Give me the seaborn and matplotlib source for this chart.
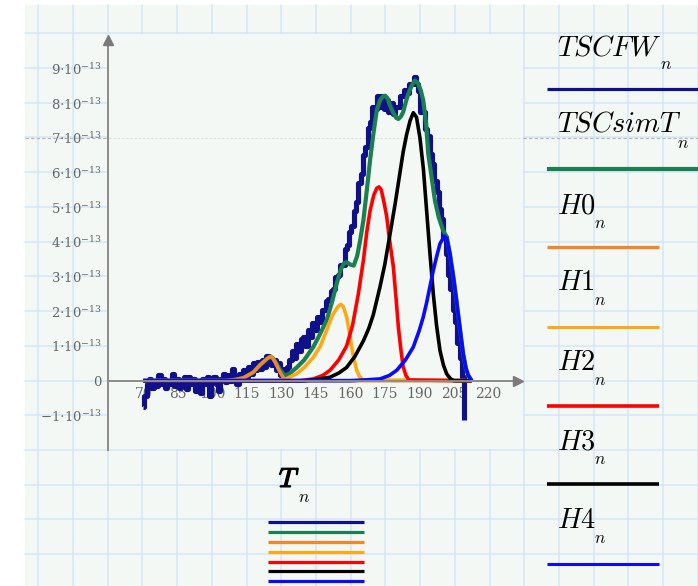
import matplotlib
matplotlib.use("Agg")
import numpy as np
import pandas as pd
import seaborn as sns
import matplotlib.pyplot as plt
from matplotlib.patches import Rectangle
import matplotlib.patheffects as pe

# ---------------- data (values in units of 1e-13) ----------------
SCALE = 1e-13

T_fw = list(range(70, 210)) + [209.5]
TSCFW = [
    -0.75, -0.45, -0.1, 0.05, -0.2, 0.0, -0.15, 0.15, -0.1, 0.05,
    -0.2, 0.0, -0.1, 0.2, -0.15, 0.05, -0.2, -0.05, 0.1, -0.25,
    0.1, -0.1, 0.05, -0.3, 0.0, -0.35, 0.05, -0.1, 0.1, -0.45,
    0.0, 0.1, -0.1, -0.3, 0.05, 0.2, -0.05, 0.15, 0.0, 0.35,
    0.1, -0.1, 0.2, 0.05, 0.3, 0.1, 0.4, 0.2, 0.5, 0.3,
    0.55, 0.35, 0.6, 0.4, 0.7, 0.5, 0.45, 0.6, 0.3, 0.5,
    0.15, 0.35, 0.05, 0.4, 0.6, 0.85, 0.65, 1.05, 0.85, 1.2,
    1.25, 1.0, 1.45, 1.25, 1.65, 1.45, 1.85, 1.7, 2.05, 2.05,
    2.3, 2.35, 2.6, 2.65, 3.0, 3.05, 3.35, 3.35, 3.8, 3.9,
    4.3, 4.45, 4.9, 5.15, 5.7, 5.95, 6.5, 6.75, 7.3, 7.45,
    7.9, 7.85, 8.2, 7.9, 8.2, 7.85, 8.1, 7.75, 8.0, 7.7,
    7.9, 7.9, 8.2, 8.2, 8.4, 8.3, 8.55, 8.55, 8.75, 8.55,
    8.35, 7.75, 7.75, 7.25, 7.05, 6.55, 6.25, 5.75, 5.45, 4.95,
    4.65, 4.15, 3.65, 3.05, 2.65, 2.05, 1.7, 1.1, 0.65, 0.12,
    -1.14,
]

T_sim = [70, 106, 110, 113.5, 117.8, 120.7, 123.6, 124.6, 125.4, 126.3, 127.3, 129.4,
         131.5, 133.5, 136.7, 140, 143.9, 146.5, 149.7, 152, 154.1, 155.8, 157.2, 158.4,
         160, 161.5, 163, 164.3, 165.7, 167.2, 168.6, 170, 171.5, 173, 174.2, 175.1,
         176.2, 177.2, 178.5, 180, 180.9, 182, 183, 184.2, 185.2, 186.6, 188.1, 189.3,
         190.5, 191.7, 193, 193.9, 195.3, 196.8, 198.5, 200.4, 201.9, 203.3, 204.8,
         206.2, 207.7, 209.1, 210.3, 211.3, 212.8]
TSCsimT = [0, 0, 0.03, 0.08, 0.24, 0.45, 0.62, 0.67, 0.69, 0.65, 0.56, 0.32,
           0.15, 0.2, 0.38, 0.6, 0.97, 1.3, 1.74, 2.25, 2.8, 3.2, 3.38, 3.42,
           3.35, 3.32, 3.6, 4.05, 4.63, 5.5, 6.36, 7.1, 7.8, 8.1, 8.2, 8.22,
           8.15, 7.95, 7.75, 7.58, 7.55, 7.62, 7.75, 8.05, 8.27, 8.5, 8.66, 8.6,
           8.4, 8.1, 7.4, 6.55, 5.9, 5.2, 4.7, 4.33, 4.15, 3.68, 3.02,
           2.3, 1.5, 0.77, 0.35, 0.15, 0]

T_h0 = [70, 106, 110, 113.5, 117.8, 120.7, 123.6, 124.6, 125.4, 126.3, 127.3, 129.4, 131.6, 212.8]
H0 = [0, 0, 0.03, 0.08, 0.24, 0.45, 0.62, 0.67, 0.69, 0.65, 0.54, 0.25, 0.0, 0]

T_h1 = [70, 128, 132, 136.7, 140, 143.9, 147, 149.7, 152, 153.3, 154.8, 155.9, 157,
        158.4, 159.5, 160.6, 161.7, 162.8, 164, 165.5, 212.8]
H1 = [0, 0, 0.05, 0.2, 0.38, 0.67, 1.0, 1.45, 1.85, 2.0, 2.15, 2.2, 2.13,
      1.84, 1.45, 0.97, 0.6, 0.3, 0.12, 0.02, 0]

T_h2 = [70, 138, 143.9, 148, 151.2, 155, 158.4, 161, 163.5, 165.7, 167.2, 168.6, 170.2,
        171.5, 172.5, 173.5, 174.8, 175.8, 177.2, 178.7, 180, 180.9, 182, 183, 184.2,
        185.5, 212.8]
H2 = [0, 0, 0.05, 0.15, 0.3, 0.6, 1.0, 1.6, 2.5, 3.47, 4.3, 4.9, 5.35,
      5.55, 5.59, 5.5, 5.1, 4.75, 4.0, 3.3, 2.3, 1.55, 0.9, 0.4, 0.15,
      0.02, 0]

T_h3 = [70, 140, 145, 151.2, 155, 158.4, 162, 165.7, 168, 170, 172.9, 175, 177.2,
        179.5, 181.6, 183, 184.5, 186, 187.4, 188.8, 190.3, 191.8, 193.2, 194.6,
        196.1, 197.5, 199, 200.5, 201.9, 203.5, 205, 212.8]
H3 = [0, 0, 0.03, 0.1, 0.22, 0.38, 0.7, 1.15, 1.5, 1.9, 2.7, 3.35, 4.2,
      5.1, 6.0, 6.6, 7.1, 7.5, 7.73, 7.6, 7.0, 6.1, 4.9, 3.7,
      2.5, 1.6, 0.87, 0.45, 0.2, 0.06, 0.0, 0]

T_h4 = [70, 160, 166, 172.9, 177, 180.2, 184, 187.4, 190, 191.7, 193.2, 194.6, 196,
        197.5, 199, 200.9, 202, 203.3, 204.8, 206.2, 207.7, 209.1, 210.3, 211.3, 212.8]
H4 = [0, 0, 0.02, 0.05, 0.15, 0.3, 0.6, 0.97, 1.45, 1.83, 2.25, 2.7, 3.15,
      3.57, 3.95, 4.17, 4.1, 3.66, 3.0, 2.3, 1.5, 0.77, 0.35, 0.15, 0]

x_ticks = [70, 85, 100, 115, 130, 145, 160, 175, 190, 205, 220]
y_ticks = [-2, -1, 0, 1, 2, 3, 4, 5, 6, 7, 8, 9]
y_tick_labels = ["", r"$-1{\cdot}10^{-13}$", "0"] + [r"$%d{\cdot}10^{-13}$" % k for k in range(1, 10)]

series_names = ["TSCFW", "TSCsimT", "H0", "H1", "H2", "H3", "H4"]
colors = ["#10108a", "#1a8050", "#f0882a", "#ffa812", "#ff0000", "#000000", "#0a0aff"]
widths = [3.7, 3.0, 2.6, 2.6, 2.6, 2.6, 2.6]
styles = ["steps-mid", "default", "default", "default", "default", "default", "default"]

series = [(T_fw, TSCFW), (T_sim, TSCsimT), (T_h0, H0), (T_h1, H1), (T_h2, H2), (T_h3, H3), (T_h4, H4)]

# ---------------- figure ----------------
sns.set_theme(style="white")
plt.rcParams["font.family"] = ["DejaVu Serif", "DejaVu Sans"]

W, H = 698, 586
fig = plt.figure(figsize=(W / 100, H / 100), dpi=100)
fig.patch.set_facecolor("white")

bg = fig.add_axes([0, 0, 1, 1])
bg.set_xlim(0, W)
bg.set_ylim(H, 0)
bg.axis("off")
paper = "#f4f8f4"
gridc = "#d3e6f7"
bg.add_patch(Rectangle((25, 5), W - 25, H - 5, fc=paper, ec="none", zorder=0))
gx = 38.2
while gx < W + 1:
    bg.plot([gx, gx], [5, H], color=gridc, lw=1.1, zorder=1)
    gx += 34.72
gy = 33.3
while gy < H + 1:
    bg.plot([25, W], [gy, gy], color=gridc, lw=1.1, zorder=1)
    gy += 34.72
# plot panel (covers the grid)
bg.add_patch(Rectangle((109, 34.2), 413.5, 415, fc=paper, ec="none", zorder=2))
# region separator
bg.plot([25, 109], [137.6, 137.6], ls=(0, (3, 2)), color="#b5b5b5", lw=0.8, zorder=3)
bg.plot([109, 523], [137.6, 137.6], ls=(0, (3, 2)), color="#dcdcdc", lw=0.6, zorder=3)
bg.plot([523, W], [137.6, 137.6], ls=(0, (3, 2)), color="#b5b5b5", lw=0.8, zorder=3)

# ---------------- main axes ----------------
ax = fig.add_axes([108 / W, (H - 450) / H, 415 / W, 417 / H])
ax.set_facecolor("none")

for (tx, vy), name, c, lw, ds in zip(series, series_names, colors, widths, styles):
    df = pd.DataFrame({"T": tx, "v": np.array(vy) * SCALE})
    sns.lineplot(data=df, x="T", y="v", ax=ax, color=c, lw=lw, estimator=None,
                 sort=False, legend=False, drawstyle=ds,
                 solid_joinstyle="round", solid_capstyle="butt")

ax.set_xlim(54.65, 235.1)
ax.set_ylim(-2.0e-13, 10.03e-13)
ax.set_xlabel("")
ax.set_ylabel("")
ax.grid(False)

axc = "#8c8c8c"
for s in ["top", "right"]:
    ax.spines[s].set_visible(False)
ax.spines["bottom"].set_position(("data", 0))
ax.spines["bottom"].set_color(axc)
ax.spines["bottom"].set_linewidth(1.4)
ax.spines["bottom"].set_bounds(54.65, 232.5)
ax.spines["left"].set_color(axc)
ax.spines["left"].set_linewidth(1.4)
ax.spines["left"].set_bounds(-2.0e-13, 9.8e-13)
ax.plot([233.0], [0], marker=">", ms=7, color="#7a7a7a", clip_on=False, zorder=5)
ax.plot([54.65], [9.82e-13], marker="^", ms=7, color="#7a7a7a", clip_on=False, zorder=5)

ax.set_xticks(x_ticks)
ax.set_xticklabels([str(t) for t in x_ticks])
ax.set_yticks([k * SCALE for k in y_ticks])
ax.set_yticklabels(y_tick_labels)
ax.tick_params(axis="x", direction="inout", length=5, width=1, color=axc,
               labelcolor="#666666", labelsize=10, pad=2)
ax.tick_params(axis="y", direction="inout", length=5, width=1, color=axc,
               labelcolor="#666666", labelsize=9.5, pad=2)
for lab in ax.get_yticklabels() + ax.get_xticklabels():
    lab.set_math_fontfamily("dejavuserif")

# ---------------- legends (Mathcad style) ----------------
tfs = 20.5
sfs = 12.5
leg_rows = [
    ("TSCFW", 557, 55, 660, 69, 89, 698),
    ("TSCsimT", 557, 132, 677, 148, 169, 698),
    ("H0", 557, 213, 594, 228, 247, 659),
    ("H1", 557, 290, 594, 305, 327, 659),
    ("H2", 557, 370, 594, 385, 406, 659),
    ("H3", 557, 449, 594, 464, 484, 659),
    ("H4", 557, 528, 594, 543, 564, 659),
]
leg_w = [2.3, 3.0, 2.4, 2.2, 2.6, 2.6, 2.2]
for (name, tx, ty, nx, ny, ly, lx2), c, lw in zip(leg_rows, colors, leg_w):
    bg.text(tx, ty, "$%s$" % name, fontsize=tfs, math_fontfamily="cm",
            ha="left", va="baseline", color="black", zorder=6)
    bg.text(nx, ny, "$n$", fontsize=sfs, math_fontfamily="cm",
            ha="left", va="baseline", color="black", zorder=6)
    bg.plot([547, lx2], [ly, ly], color=c, lw=lw, solid_capstyle="butt", zorder=6)

bg.text(279, 487, r"$T$", fontsize=19.5, math_fontfamily="cm",
        ha="left", va="baseline", color="black", zorder=6,
        path_effects=[pe.withStroke(linewidth=1.0, foreground="black")])
bg.text(298, 502, "$n$", fontsize=sfs, math_fontfamily="cm",
        ha="left", va="baseline", color="black", zorder=6)
for yy, c in zip([522, 532, 542, 551.5, 561.5, 571, 581], colors):
    bg.plot([268, 364], [yy, yy], color=c, lw=2.3, solid_capstyle="butt", zorder=6)

fig.savefig("out.png", dpi=100, facecolor=fig.get_facecolor())
